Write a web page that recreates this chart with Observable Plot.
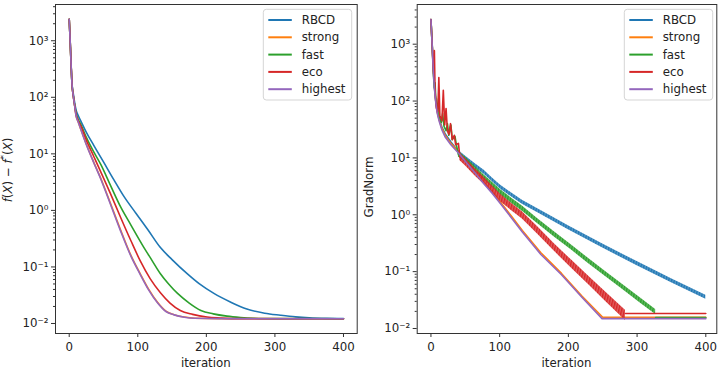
<!DOCTYPE html>
<html><head><meta charset="utf-8">
<script src="https://cdn.jsdelivr.net/npm/d3@7"></script>
<script src="https://cdn.jsdelivr.net/npm/@observablehq/plot@0.6"></script>
<style>
body{margin:0;background:#fff;}
#wrap{display:flex;width:722px;height:371px;overflow:hidden;}
#wrap svg{display:block;font-family:"DejaVu Sans",sans-serif;}
</style></head><body><div id="wrap"></div>
<script>
// ---------- shared ----------
const seriesNames = ["RBCD", "strong", "fast", "eco", "highest"];
const seriesColors = ["#1f77b4", "#ff7f0e", "#2ca02c", "#d62728", "#9467bd"];
const xTicks = [0, 100, 200, 300, 400];
const yTicks = [1e-2, 1e-1, 1e0, 1e1, 1e2, 1e3];
const yTickLabels = ["10⁻²", "10⁻¹", "10⁰", "10¹", "10²", "10³"];
const xLabel = "iteration";
const yLabelRight = "GradNorm";

// ---------- left panel: f(X) - f*(X) ----------
const objIter_RBCD = [0,1,2,3,4,6,8,10,13,17,25,36,50,65,80,97,115,133,150,172,190,211,235,259,285,308,330,350,375,400];
const objVal_RBCD  = [2400,1300,650,320,180,115,80,60,48,38,24,14,7.2,3.5,1.75,0.9,0.45,0.22,0.135,0.076,0.05,0.034,0.024,0.018,0.0152,0.014,0.0131,0.0126,0.0123,0.0122];
const objIter_strong = [0,1,2,3,4,6,8,10,13,17,25,36,46,60,75,90,104,116,129,141,153,168,183,220,400];
const objVal_strong  = [2400,1300,650,320,175,105,70,47,37,27,14.8,7.0,3.7,1.35,0.45,0.16,0.074,0.04,0.0235,0.0166,0.0143,0.013,0.0124,0.0122,0.0121];
const objIter_fast = [0,1,2,3,4,6,8,10,13,17,25,36,46,60,75,90,109,120,133,145,158,175,192,210,230,250,270,300,400];
const objVal_fast  = [2400,1300,650,320,175,105,72,52,41,33,19.5,10.7,6.5,2.8,1.15,0.55,0.22,0.135,0.076,0.05,0.034,0.023,0.017,0.0148,0.0135,0.0128,0.0124,0.0122,0.0121];
const objIter_eco = [0,1,2,3,4,6,8,10,13,17,25,36,46,60,75,90,104,118,133,147,162,180,201,220,240,400];
const objVal_eco  = [2400,1300,650,320,175,105,71,50,39,31,17.5,8.9,4.8,2.0,0.75,0.29,0.125,0.062,0.035,0.023,0.017,0.0145,0.013,0.0125,0.0122,0.0121];
const objIter_highest = [0,1,2,3,4,6,8,10,13,17,25,36,46,60,75,90,104,116,129,141,153,168,183,220,400];
const objVal_highest  = [2400,1300,650,320,175,105,70,47,37,27,14.5,6.9,3.6,1.3,0.43,0.155,0.072,0.039,0.023,0.0163,0.0142,0.0129,0.0124,0.0122,0.0121];

// ---------- right panel: GradNorm ----------
// smooth lines (strong, highest)
const gIter_strong = [0,1,2,3,4,5,6,7,9,12,16,21,29,41,53,65,77,89,101,117,133,160,190,220,250,400];
const gVal_strong  = [2700,1550,880,470,275,180,132,100,66,47,33,24.5,18,12.5,8.4,5.6,3.7,2.55,1.68,0.95,0.53,0.215,0.093,0.037,0.0158,0.0158];
const gIter_highest = [0,1,2,3,4,5,6,7,9,12,16,21,29,41,53,65,77,89,101,117,133,160,190,220,249,250,400];
const gVal_highest  = [2700,1500,850,450,260,170,125,95,62,44,31,23,17,11.8,7.9,5.3,3.5,2.4,1.58,0.89,0.5,0.2,0.088,0.035,0.0149,0.0149,0.0149];
// early spiky segments
const gEarlyIter_RBCD = [0,1,2,3,4,5,6,7,9,12,16,21,29,36,40];
const gEarlyVal_RBCD  = [2700,1600,900,480,280,180,135,100,68,48,35,26,19,15,12.6];
const gEarlyIter_fast = [0,1,2,3,4,5,6,7,9,11,12,15,17,19,22,24,26,29,31,35,37,40];
const gEarlyVal_fast  = [2700,1500,850,450,250,170,210,110,70,110,55,42,60,36,30,40,25,38,21,24,17,11.5];
const gEarlyIter_eco = [0,1,2,3,4,5,6,8,10,11.5,13,16,18,20,22,24,26,28.5,31,34,36,40,42];
const gEarlyVal_eco  = [2700,1500,850,400,300,770,150,75,65,260,55,45,155,38,74,30,26,40,21,25,17,18,10.5];
// oscillating bands (lower / upper envelope of the zigzag)
const gBandIter_RBCD = [40,50,65,77,89,101,117,133,166,200,250,300,350,400];
const gBandLo_RBCD   = [11.6,9.2,6.7,5.2,3.85,2.85,2.07,1.53,0.92,0.543,0.26,0.127,0.0638,0.0327];
const gBandHi_RBCD   = [13.6,10.8,7.85,6.1,4.5,3.35,2.43,1.8,1.08,0.638,0.305,0.15,0.075,0.0385];
const gBandIter_fast = [40,50,65,77,89,101,117,133,155,180,205,230,255,280,305,327];
const gBandLo_fast   = [10.4,8.4,5.7,4.12,3.06,2.26,1.6,1.15,0.70,0.403,0.237,0.136,0.0803,0.0473,0.0279,0.0176];
const gBandHi_fast   = [12.8,10.35,7.0,5.07,3.76,2.79,1.97,1.42,0.86,0.496,0.292,0.168,0.0988,0.0582,0.0343,0.0216];
const gBandIter_eco = [42,50,65,77,89,101,117,133,155,180,205,230,255,283];
const gBandLo_eco   = [9.0,7.3,4.7,3.43,2.43,1.72,1.19,0.84,0.46,0.225,0.114,0.058,0.0293,0.0138];
const gBandHi_eco   = [12.2,9.9,6.4,4.6,3.27,2.32,1.6,1.13,0.62,0.305,0.158,0.082,0.043,0.0209];
// flat tails after convergence
const gTailIter_fast = [327,400];
const gTailVal_fast  = [0.0155,0.0155];
const gTailIter_eco = [283,400];
const gTailVal_eco  = [0.0184,0.0184];

// ---------- helpers ----------
const pts = (xs, ys) => xs.map((x, i) => ({x, y: ys[i]}));
const band = (xs, lo, hi) => xs.map((x, i) => ({x, lo: lo[i], hi: hi[i]}));
const yMinor = yTicks.slice(0, -1).flatMap(t => [2,3,4,5,6,7,8,9].map(k => k * t)).concat([2000, 3000, 4000]);
const tickLabelMap = new Map(yTicks.map((t, i) => [t, yTickLabels[i]]));
const SW = 1.6;

function basePlot({ml, mr, yDomain, xDomain, marks}) {
  return Plot.plot({
    width: 361, height: 371,
    marginLeft: ml, marginRight: mr, marginTop: 4, marginBottom: 38,
    style: {fontFamily: "'DejaVu Sans', sans-serif", fontSize: "11.8px", color: "#222", background: "white"},
    x: {domain: xDomain, label: null},
    y: {type: "log", domain: yDomain, label: null},
    marks: [
      ...marks,
      Plot.axisY(yMinor, {tickSize: 2, tickFormat: () => "", label: null, stroke: "#333"}),
      Plot.axisY(yTicks, {tickSize: 4, tickPadding: 3, tickFormat: d => tickLabelMap.get(d), label: null, stroke: "#333"}),
      Plot.axisX(xTicks, {tickSize: 4, tickPadding: 5, label: null, stroke: "#333"}),
      Plot.frame({stroke: "#333", strokeWidth: 1})
    ]
  });
}

function addLegend(svg, boxRight, boxTop) {
  const w = 88.4, h = 90.7, x0 = boxRight - w;
  const g = d3.select(svg).append("g").attr("text-anchor", "start");
  g.append("rect").attr("x", x0).attr("y", boxTop).attr("width", w).attr("height", h)
    .attr("rx", 3).attr("fill", "white").attr("fill-opacity", 0.8).attr("stroke", "#d5d5d5");
  seriesNames.forEach((name, i) => {
    const cy = boxTop + 10.7 + i * 17.3;
    g.append("line").attr("x1", x0 + 5).attr("x2", x0 + 28.5).attr("y1", cy).attr("y2", cy)
      .attr("stroke", seriesColors[i]).attr("stroke-width", 2);
    g.append("text").attr("x", x0 + 38.4).attr("y", cy).attr("dy", "0.35em").attr("text-anchor", "start")
      .attr("font-size", 11.8).attr("fill", "#222").text(name);
  });
}

function addXLabel(svg, cx) {
  d3.select(svg).append("text").attr("x", cx).attr("y", 367).attr("text-anchor", "middle")
    .attr("font-size", 11.8).attr("fill", "#222").text(xLabel);
}

// ---------- left ----------
const leftSeries = [
  [objIter_RBCD, objVal_RBCD], [objIter_strong, objVal_strong], [objIter_fast, objVal_fast],
  [objIter_eco, objVal_eco], [objIter_highest, objVal_highest]
];
const left = basePlot({
  ml: 55, mr: 4.3, xDomain: [-20, 420], yDomain: [Math.pow(10, -2.177), Math.pow(10, 3.641)],
  marks: leftSeries.map(([xs, ys], i) =>
    Plot.line(pts(xs, ys), {x: "x", y: "y", stroke: seriesColors[i], strokeWidth: SW, curve: "monotone-x"}))
});
addLegend(left, 351.7, 9.3);
addXLabel(left, 205.8);
{
  const t = d3.select(left).append("text").attr("transform", "translate(11.5,170) rotate(-90)")
    .attr("text-anchor", "middle").attr("font-size", 11.8).attr("fill", "#222");
  t.append("tspan").attr("font-style", "italic").text("f");
  t.append("tspan").text("(");
  t.append("tspan").attr("font-style", "italic").text("X");
  t.append("tspan").text(") − ");
  t.append("tspan").attr("font-style", "italic").text("f");
  t.append("tspan").attr("dy", -4.5).attr("font-size", 8.5).text("*");
  t.append("tspan").attr("dy", 4.5).text("(");
  t.append("tspan").attr("font-style", "italic").text("X");
  t.append("tspan").text(")");
}

// ---------- right ----------
const zz = i => `url(#zz${i})`;
const right = basePlot({
  ml: 55.7, mr: 5.7, xDomain: [-20, 416], yDomain: [Math.pow(10, -2.088), Math.pow(10, 3.698)],
  marks: [
    Plot.line(pts(gEarlyIter_RBCD, gEarlyVal_RBCD), {x: "x", y: "y", stroke: seriesColors[0], strokeWidth: SW}),
    Plot.areaY(band(gBandIter_RBCD, gBandLo_RBCD, gBandHi_RBCD), {x: "x", y1: "lo", y2: "hi", fill: zz(0)}),
    Plot.line(pts(gIter_strong, gVal_strong), {x: "x", y: "y", stroke: seriesColors[1], strokeWidth: SW}),
    Plot.line(pts(gEarlyIter_fast, gEarlyVal_fast), {x: "x", y: "y", stroke: seriesColors[2], strokeWidth: SW}),
    Plot.areaY(band(gBandIter_fast, gBandLo_fast, gBandHi_fast), {x: "x", y1: "lo", y2: "hi", fill: zz(2)}),
    Plot.line(pts(gTailIter_fast, gTailVal_fast), {x: "x", y: "y", stroke: seriesColors[2], strokeWidth: SW}),
    Plot.line(pts(gEarlyIter_eco, gEarlyVal_eco), {x: "x", y: "y", stroke: seriesColors[3], strokeWidth: SW}),
    Plot.areaY(band(gBandIter_eco, gBandLo_eco, gBandHi_eco), {x: "x", y1: "lo", y2: "hi", fill: zz(3)}),
    Plot.line(pts(gTailIter_eco, gTailVal_eco), {x: "x", y: "y", stroke: seriesColors[3], strokeWidth: SW}),
    Plot.line(pts(gIter_highest, gVal_highest), {x: "x", y: "y", stroke: seriesColors[4], strokeWidth: SW})
  ]
});
{
  const defs = d3.select(right).insert("defs", ":first-child");
  seriesColors.forEach((c, i) => {
    const p = defs.append("pattern").attr("id", "zz" + i).attr("patternUnits", "userSpaceOnUse")
      .attr("width", 2.75).attr("height", 10).attr("patternTransform", "rotate(14)");
    p.append("rect").attr("width", 2.75).attr("height", 10).attr("fill", c).attr("fill-opacity", 0.75);
    p.append("rect").attr("width", 1.4).attr("height", 10).attr("fill", c);
  });
}
addLegend(right, 351.7, 9.3);
addXLabel(right, 205.5);
d3.select(right).append("text").attr("transform", "translate(12,187) rotate(-90)")
  .attr("text-anchor", "middle").attr("font-size", 11.8).attr("fill", "#222").text(yLabelRight);

document.getElementById("wrap").append(left, right);
</script>
</body></html>
